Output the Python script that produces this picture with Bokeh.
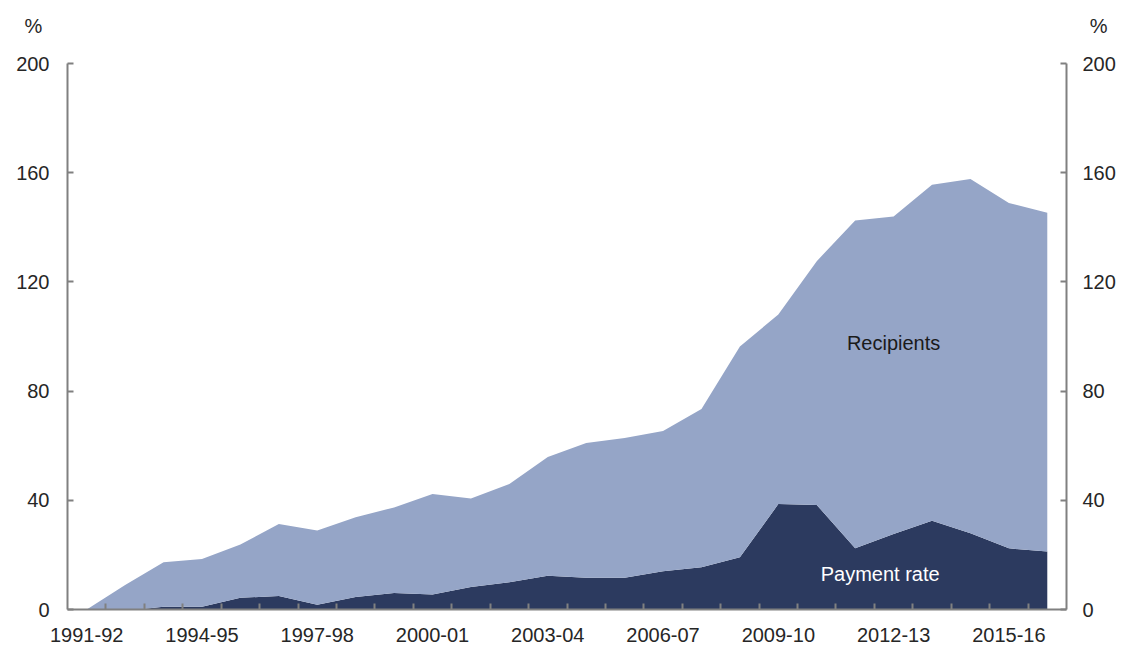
from bokeh.plotting import figure
from bokeh.models import Range1d, LinearAxis, FixedTicker, Label, ColumnDataSource, Title
from bokeh.embed import file_html
from bokeh.resources import INLINE

years = ["1991-92", "1992-93", "1993-94", "1994-95", "1995-96", "1996-97",
         "1997-98", "1998-99", "1999-00", "2000-01", "2001-02", "2002-03",
         "2003-04", "2004-05", "2005-06", "2006-07", "2007-08", "2008-09",
         "2009-10", "2010-11", "2011-12", "2012-13", "2013-14", "2014-15",
         "2015-16", "2016-17"]
payment_rate = [0.0, -0.5, 1.0, 1.0, 4.3, 4.9, 1.7, 4.6, 6.0, 5.5, 8.2, 10.0,
                12.4, 11.6, 11.6, 14.0, 15.5, 19.1, 38.6, 38.3, 22.4, 27.7,
                32.5, 27.9, 22.4, 21.2]
recipients = [0.0, 9.5, 16.3, 17.5, 19.5, 26.4, 27.2, 29.2, 31.4, 36.8, 32.5,
              36.0, 43.5, 49.4, 51.2, 51.4, 57.9, 77.2, 69.5, 89.3, 120.1,
              116.3, 123.1, 129.8, 126.5, 124.1]
y_ticks = [0, 40, 80, 120, 160, 200]
x_label_years = years[::3]

DARK = "#2C3A5F"
LIGHT = "#95A5C7"
AXIS = "#808080"
TEXT = "#262626"
FONT = "Liberation Sans"

xs = [i + 0.5 for i in range(len(years))]
source = ColumnDataSource(dict(x=xs, payment=payment_rate, recipients=recipients))

p = figure(width=1121, height=646, output_backend="svg", toolbar_location=None,
           x_range=Range1d(0, len(years)), y_range=Range1d(0, 200),
           min_border_left=67, min_border_right=55, min_border_top=63,
           min_border_bottom=37)
p.outline_line_color = None
p.xgrid.visible = False
p.ygrid.visible = False
p.background_fill_color = "white"
p.border_fill_color = "white"

p.varea_stack(["payment", "recipients"], x="x", color=[DARK, LIGHT], source=source)

# x axis
xa = p.xaxis[0]
xa.ticker = FixedTicker(ticks=[xs[years.index(y)] for y in x_label_years],
                        minor_ticks=list(range(1, len(years))))
xa.major_label_overrides = {xs[years.index(y)]: y for y in x_label_years}
xa.major_tick_in = 0
xa.major_tick_out = 0
xa.minor_tick_in = 6
xa.minor_tick_out = 0
xa.minor_tick_line_color = AXIS
xa.minor_tick_line_width = 2
xa.axis_line_color = AXIS
xa.axis_line_width = 2
xa.major_label_standoff = 18
xa.major_label_text_font = FONT
xa.major_label_text_font_size = "20px"
xa.major_label_text_color = TEXT

def style_y(ax, standoff):
    ax.ticker = FixedTicker(ticks=y_ticks)
    ax.major_tick_in = 6
    ax.major_tick_out = 0
    ax.minor_tick_in = 0
    ax.minor_tick_out = 0
    ax.major_tick_line_color = AXIS
    ax.major_tick_line_width = 2
    ax.axis_line_color = AXIS
    ax.axis_line_width = 2
    ax.major_label_standoff = standoff
    ax.major_label_text_font = FONT
    ax.major_label_text_font_size = "20px"
    ax.major_label_text_color = TEXT

style_y(p.yaxis[0], 18)
ry = LinearAxis()
style_y(ry, 16)
p.add_layout(ry, "right")

# "%" unit labels above each y axis, as titles in the top border
p.add_layout(Title(text="%", align="left", offset=-43, standoff=-98,
                   vertical_align="top",
                   text_font=FONT, text_font_size="20px", text_font_style="normal",
                   text_color=TEXT), "above")
p.add_layout(Title(text="%", align="right", offset=-41, standoff=-98,
                   vertical_align="top",
                   text_font=FONT, text_font_size="20px", text_font_style="normal",
                   text_color=TEXT), "above")

p.add_layout(Label(x=21.5, y=97.5, text="Recipients", text_font=FONT,
                   text_font_size="20px", text_color="#1A1A1A",
                   text_align="center", text_baseline="middle"))
p.add_layout(Label(x=21.15, y=13.0, text="Payment rate", text_font=FONT,
                   text_font_size="20px", text_color="white",
                   text_align="center", text_baseline="middle"))

open("out.html", "w").write(file_html(p, INLINE))
